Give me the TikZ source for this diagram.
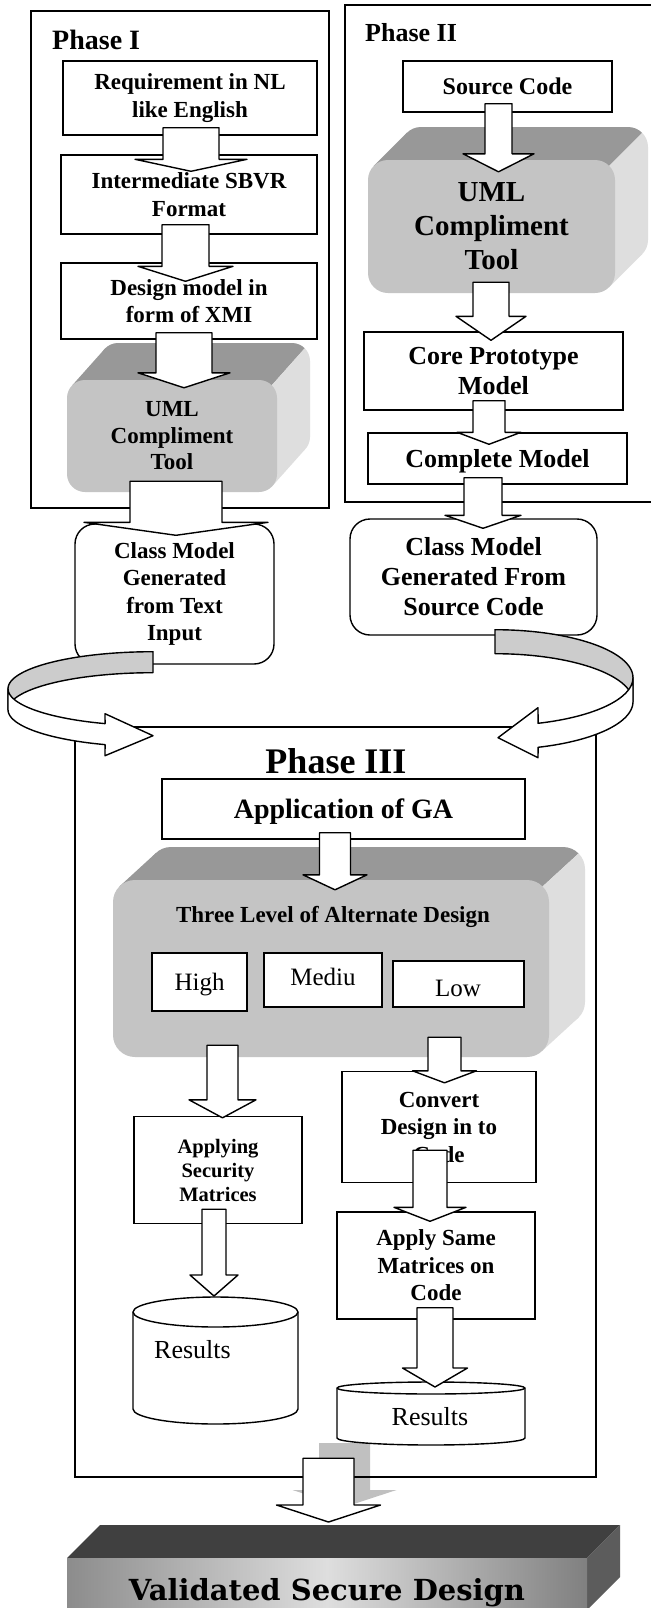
\documentclass[tikz,border=0pt]{standalone}
\usepackage{fontspec}
\setmainfont{Liberation Serif}
\newfontfamily\slabfont{DejaVu Serif}
\usetikzlibrary{calc}

\definecolor{frontgray}{RGB}{196,196,196}
\definecolor{topgray}{RGB}{152,152,152}
\definecolor{sidegray}{RGB}{222,222,222}
\definecolor{bandgray}{RGB}{204,204,204}
\definecolor{shadowgray}{RGB}{192,192,192}
\definecolor{bartop}{RGB}{64,64,64}
\definecolor{barside}{RGB}{92,92,92}
\definecolor{barlight}{RGB}{222,222,222}
\definecolor{bardarkl}{RGB}{140,140,140}
\definecolor{bardarkr}{RGB}{128,128,128}

\tikzset{
  frame/.style={draw, line width=1.5bp, inner sep=0pt},
  box/.style={draw, line width=1.4bp, fill=white, inner sep=0pt, align=center},
  blockarrow/.style={draw, fill=white, line width=1.4bp, line join=round},
  shadowarrow/.style={fill=shadowgray},
  band/.style={draw, line width=1.4bp, line join=round},
  tS/.style={font=\bfseries\fontsize{20.5bp}{24bp}\selectfont},
  tM/.style={font=\bfseries\fontsize{23bp}{27.5bp}\selectfont},
  tL/.style={font=\bfseries\fontsize{26bp}{30bp}\selectfont},
  rN/.style={font=\fontsize{25bp}{28bp}\selectfont},
}

% hollow block arrow: [style]{start}{tip}{shaft half width}{head half width}{head length}
\newcommand\blk[6][blockarrow]{%
  \path[#1] let \p1=(#2), \p2=(#3) in
    (\x1-#4bp,\y1) -- (\x1+#4bp,\y1) -- (\x1+#4bp,\y2+#6bp) -- (\x1+#5bp,\y2+#6bp)
    -- (\x1,\y2) -- (\x1-#5bp,\y2+#6bp) -- (\x1-#4bp,\y2+#6bp) -- cycle;}

% raised grey slab: front face corners x1,y1,x2,y2; depth dx,dy; corner radius
\newcommand\threed[7]{%
  \pgfmathsetmacro\tdc{0.293*#7}%
  \pgfmathsetmacro\tdpx{#3-\tdc}%
  \pgfmathsetmacro\tdpy{#2+\tdc}%
  \pgfmathsetmacro\tdk{#6/#5}%
  \begin{scope}
    \clip ({\tdpx-1500},{\tdpy+1500*\tdk}) -- ({\tdpx+1500},{\tdpy-1500*\tdk})
      -- ({\tdpx+1500},{\tdpy-4000}) -- ({\tdpx-1500},{\tdpy-4000}) -- cycle;
    \fill[topgray, rounded corners=#7bp] ({#1+#5},{#2-#6}) rectangle ({#3+#5},{#4-#6});
    \fill[topgray] ({#1+\tdc},{#2+\tdc}) -- ({#1+\tdc+#5},{#2+\tdc-#6})
      -- ({#3-\tdc+#5},{#4-\tdc-#6}) -- ({#3-\tdc},{#4-\tdc}) -- cycle;
  \end{scope}
  \begin{scope}
    \clip ({\tdpx-1500},{\tdpy+1500*\tdk}) -- ({\tdpx+1500},{\tdpy-1500*\tdk})
      -- ({\tdpx+1500},{\tdpy+4000}) -- ({\tdpx-1500},{\tdpy+4000}) -- cycle;
    \fill[sidegray, rounded corners=#7bp] ({#1+#5},{#2-#6}) rectangle ({#3+#5},{#4-#6});
    \fill[sidegray] ({#1+\tdc},{#2+\tdc}) -- ({#1+\tdc+#5},{#2+\tdc-#6})
      -- ({#3-\tdc+#5},{#4-\tdc-#6}) -- ({#3-\tdc},{#4-\tdc}) -- cycle;
  \end{scope}
  \fill[frontgray, rounded corners=#7bp] (#1,#2) rectangle (#3,#4);
}

\begin{document}
\begin{tikzpicture}[x=1bp, y=-1bp]
\useasboundingbox (0,0) rectangle (651,1608);
\fill[white] (0,0) rectangle (651,1608);
\clip (0,0) rectangle (651,1608);

% ---------- outer phase frames ----------
\node[frame, minimum width=298bp, minimum height=497bp] (p1) at (180,259.5) {};
\node[frame, minimum width=308bp, minimum height=497bp] (p2) at (499,253.5) {};
\node[inner sep=0pt, minimum width=521bp, minimum height=750bp] (p3) at (335.5,1102) {};
\coordinate (validtop) at (343.5,1525);

% grey shadow behind the final arrow
\blk[shadowarrow]{$(p3.south)+(9,-34)$}{$(validtop)+(0,-18)$}{25.5}{52}{17}
\draw[line width=1.5bp] (p3.south west) rectangle (p3.north east);

\node[anchor=base west, inner sep=0pt, font=\bfseries\fontsize{28bp}{30bp}\selectfont] (p1title) at (52,50) {Phase I};
\node[anchor=base west, inner sep=0pt, font=\bfseries\fontsize{26bp}{30bp}\selectfont] (p2title) at (365,42) {Phase II};
\node[anchor=base, inner sep=0pt, font=\bfseries\fontsize{36bp}{40bp}\selectfont] (p3title) at (336,773) {Phase III};

% ---------- Phase I ----------
\node[box, tM, minimum width=254bp, minimum height=74bp] (req) at (190,98) {Requirement in NL\\like English};
\node[box, tM, minimum width=256bp, minimum height=79bp] (sbvr) at (189,194.5) {Intermediate SBVR\\Format};
\node[box, tM, minimum width=256bp, minimum height=76bp] (xmi) at (189,301) {Design model in\\form of XMI};
\threed{67}{380}{277}{492}{33}{37}{18}
\node[align=center, inner sep=0pt, minimum width=210bp, minimum height=112bp,
      font=\bfseries\fontsize{23bp}{26.5bp}\selectfont] (uml1) at (172,436) {UML\\Compliment\\Tool};
\blk{$(req.south)+(1,-8)$}{$(sbvr.north)+(0,17)$}{28}{56}{12}
\blk{$(sbvr.south)+(-3.5,-10)$}{$(xmi.north)+(0,19)$}{23.5}{47.5}{15}
\blk{$(xmi.south)+(-5,-7)$}{$(uml1.north)+(0,8)$}{28}{46}{15}

% ---------- Phase II ----------
\node[box, text depth=0pt, minimum width=209bp, minimum height=51bp,
      font=\bfseries\fontsize{24bp}{28bp}\selectfont] (src) at (507.5,86.5) {Source Code};
\threed{368}{160}{615}{293}{33}{33}{20}
\node[align=center, inner sep=0pt, minimum width=247bp, minimum height=133bp,
      font=\bfseries\fontsize{29bp}{34bp}\selectfont] (uml2) at (491.5,226.5) {UML\\Compliment\\Tool};
\node[box, tL, minimum width=259bp, minimum height=78bp] (core) at (493.5,371) {Core Prototype\\Model};
\node[box, tL, text depth=0pt, minimum width=259bp, minimum height=51bp] (complete) at (497.5,458.5) {Complete Model};
\blk{$(src.south)+(-9,-9)$}{$(uml2.north)+(0,12)$}{13.5}{35.5}{18}
\blk{$(uml2.south)+(-0.5,-11)$}{$(core.north)+(0,9)$}{18}{35}{24}
\blk{$(core.south)+(-4.5,-10)$}{$(complete.north)+(0,12)$}{16}{32}{12}

% ---------- generated class models ----------
\node[box, tM, rounded corners=20bp, minimum width=199bp, minimum height=140bp] (cm1) at (174.5,594) {Class Model\\Generated\\from Text\\Input};
\node[box, tL, rounded corners=20bp, minimum width=247bp, minimum height=116bp] (cm2) at (473.5,577) {Class Model\\Generated From\\Source Code};
\blk{$(uml1.south)+(4,-11)$}{$(cm1.north)+(0,12)$}{46}{92}{13}
\blk{$(complete.south)+(-14.5,-7)$}{$(cm2.north)+(0,10)$}{19}{38}{13}

% ---------- Phase III ----------
\node[box, text depth=0pt, minimum width=363bp, minimum height=60bp,
      font=\bfseries\fontsize{28bp}{32bp}\selectfont] (ga) at (343.5,809) {Application of GA};
\threed{113}{880}{549}{1057}{36}{33}{22}
\node[inner sep=0pt, minimum width=436bp, minimum height=177bp] (three) at (331,968.5) {};
\node[anchor=base, inner sep=0pt, tM] (threetxt) at (333,922) {Three Level of Alternate Design};
\node[box, rN, text depth=0pt, minimum width=95bp, minimum height=58bp] (high) at (199.5,982) {High};
\node[box, minimum width=118bp, minimum height=54bp] (mediu) at (323,980) {};
\node[anchor=base, inner sep=0pt, rN] (medtxt) at (323,985) {Mediu};
\node[box, minimum width=131bp, minimum height=46bp] (low) at (458.5,984) {};
\node[anchor=base, inner sep=0pt, rN] (lowtxt) at (458,996) {Low};

\node[box, tS, minimum width=168bp, minimum height=107bp] (appl) at (218,1170) {Applying\\Security\\Matrices};
\node[box, tM, minimum width=194bp, minimum height=111bp] (convert) at (439,1127) {Convert\\Design in to\\Code};
\node[box, tM, minimum width=198bp, minimum height=107bp] (apply) at (436,1265.5) {Apply Same\\Matrices on\\Code};

% result stores
\coordinate (res1top) at (215.5,1297);
\coordinate (res2top) at (431,1382);
\filldraw[fill=white, line width=1.4bp] (133,1312) -- (133,1409)
  arc[start angle=180, end angle=0, x radius=82.5, y radius=15] -- (298,1312)
  arc[start angle=0, end angle=-180, x radius=82.5, y radius=15] -- cycle;
\draw[line width=1.4bp] (133,1312) arc[start angle=180, end angle=0, x radius=82.5, y radius=15];
\node[anchor=base west, inner sep=0pt, font=\fontsize{26bp}{30bp}\selectfont] (res1) at (154,1358) {Results};
\filldraw[fill=white, line width=1.4bp] (337,1388) -- (337,1438)
  arc[start angle=180, end angle=0, x radius=94, y radius=7] -- (525,1388)
  arc[start angle=0, end angle=-180, x radius=94, y radius=6] -- cycle;
\draw[line width=1.4bp] (337,1388) arc[start angle=180, end angle=0, x radius=94, y radius=6];
\node[anchor=base, inner sep=0pt, font=\fontsize{26bp}{30bp}\selectfont] (res2) at (430,1425) {Results};

\blk{$(ga.south)+(-8.5,-7)$}{$(three.north)+(0,10)$}{15.5}{32}{15}
\blk{$(appl.north |- three.south)+(4.5,-12)$}{$(appl.north)+(0,2)$}{15.5}{33.5}{18}
\blk{$(convert.north |- three.south)+(5.5,-20)$}{$(convert.north)+(0,12)$}{16.5}{32}{12}
\blk{$(convert.south)+(-9,-33)$}{$(apply.north)+(0,10)$}{17}{36}{14}
\blk{$(appl.south)+(-4,-15)$}{$(res1top)+(0,-1)$}{12}{24}{21}
\blk{$(apply.south)+(-1,-12)$}{$(res2top)+(0,5)$}{18}{32.5}{19}

% ---------- curved ribbons feeding Phase III ----------
\coordinate (lc) at ($(cm1.south)+(-21.5,24)$);
\begin{scope}[shift={(lc)}]
  \filldraw[band, fill=bandgray]
    plot[domain=90:180, samples=40] ({145*cos(\x)},{-37*sin(\x)})
    -- plot[domain=180:90, samples=40] ({145*cos(\x)},{21-37*sin(\x)}) -- cycle;
  \filldraw[band, fill=white]
    plot[domain=180:250.7, samples=30] ({145*cos(\x)},{-37*sin(\x)})
    -- (-48,25) -- (0,47) -- (-48,67)
    -- plot[domain=250.7:180, samples=30] ({145*cos(\x)},{21-37*sin(\x)}) -- cycle;
\end{scope}
\coordinate (rc) at ($(cm2.south)+(21.5,42)$);
\begin{scope}[shift={(rc)}]
  \filldraw[band, fill=bandgray]
    plot[domain=90:0, samples=40] ({138*cos(\x)},{-48*sin(\x)})
    -- plot[domain=0:90, samples=40] ({138*cos(\x)},{24-48*sin(\x)}) -- cycle;
  \filldraw[band, fill=white]
    plot[domain=0:-71.8, samples=30] ({138*cos(\x)},{-48*sin(\x)})
    -- (43,30) -- (3,60) -- (43,80)
    -- plot[domain=-71.8:0, samples=30] ({138*cos(\x)},{24-48*sin(\x)}) -- cycle;
\end{scope}

% ---------- final result slab ----------
\fill[bartop] (67,1558) -- (100,1525) -- (620,1525) -- (587,1558) -- cycle;
\fill[barside] (587,1558) -- (620,1525) -- (620,1577) -- (587,1610) -- cycle;
\shade[left color=bardarkl, right color=bardarkr, middle color=barlight] (67,1558) rectangle (587,1612);
\node[anchor=base, inner sep=0pt, font=\slabfont\bfseries\fontsize{29bp}{32bp}\selectfont] (valid) at (327,1600) {Validated Secure Design};
\blk{$(p3.south)+(-7,-19)$}{$(validtop)+(0,-3)$}{25.5}{52}{17}
\end{tikzpicture}
\end{document}
